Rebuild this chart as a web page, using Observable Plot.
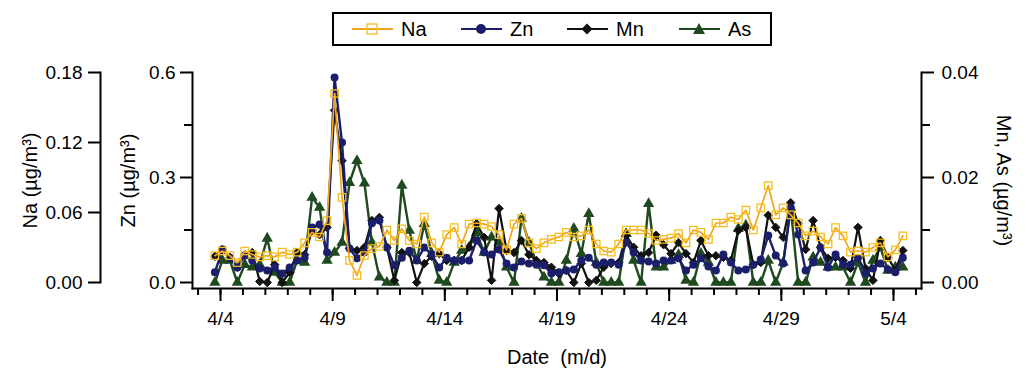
<!DOCTYPE html>
<html><head><meta charset="utf-8">
<script src="https://cdn.jsdelivr.net/npm/d3@7"></script>
<script src="https://cdn.jsdelivr.net/npm/@observablehq/plot@0.6"></script>
<style>
body{margin:0;background:#fff;font-family:"Liberation Sans",Arial,sans-serif;}
#wrap{position:relative;width:1026px;height:370px;}
#legend{position:absolute;left:332px;top:12px;width:436px;height:30px;border:2px solid #000;background:#fff;}
.item{position:absolute;top:0;height:30px;display:flex;align-items:center;font-size:20px;color:#000;}
.item svg{margin-right:8px;}
</style></head><body>
<div id="wrap"><div id="chart"></div><div id="legend"></div></div>
<script>
// ---- data (8-hour samples starting 4/3 18:00) ----
const startTime = "2008-04-03T18:00:00Z";
const stepHours = 8;
const na = [0.023,0.027,0.023,0.017,0.027,0.024,0.022,0.023,0.022,0.026,0.024,0.026,0.034,0.043,0.039,0.053,0.162,0.073,0.019,0.006,
0.023,0.029,0.031,0.045,0.036,0.046,0.036,0.033,0.056,0.034,0.026,0.041,0.047,0.033,0.050,0.051,0.050,0.048,0.041,0.028,
0.050,0.055,0.034,0.029,0.034,0.037,0.039,0.043,0.039,0.040,0.045,0.033,0.027,0.026,0.033,0.045,0.045,0.045,0.042,0.036,
0.037,0.038,0.042,0.034,0.045,0.043,0.037,0.051,0.051,0.056,0.054,0.062,0.045,0.064,0.083,0.058,0.064,0.058,0.051,0.040,
0.044,0.039,0.033,0.047,0.040,0.026,0.027,0.026,0.030,0.034,0.022,0.028,0.040];
const zn = [0.029,0.094,0.071,0.043,0.077,0.063,0.040,0.034,0.043,0.026,0.043,0.063,0.071,0.157,0.166,0.086,0.586,0.400,0.097,0.069,
0.086,0.169,0.177,0.100,0.049,0.071,0.091,0.063,0.100,0.080,0.043,0.071,0.063,0.063,0.063,0.120,0.086,0.080,0.094,0.054,
0.043,0.060,0.054,0.051,0.049,0.026,0.029,0.034,0.037,0.063,0.071,0.051,0.057,0.057,0.051,0.114,0.086,0.063,0.060,0.054,
0.063,0.063,0.069,0.034,0.051,0.069,0.046,0.034,0.080,0.057,0.034,0.037,0.051,0.066,0.134,0.077,0.054,0.214,0.137,0.034,
0.057,0.100,0.043,0.080,0.051,0.051,0.071,0.026,0.040,0.054,0.037,0.029,0.071];
const mn = [0.0050,0.0063,0.0048,0.0029,0.0053,0.0057,0.0002,0.0000,0.0034,0.0000,0.0019,0.0057,0.0053,0.0099,0.0091,0.0105,0.0328,0.0232,0.0065,0.0061,
0.0067,0.0118,0.0124,0.0067,0.0004,0.0057,0.0057,0.0000,0.0036,0.0050,0.0055,0.0042,0.0042,0.0042,0.0067,0.0112,0.0086,0.0004,0.0141,0.0061,
0.0057,0.0080,0.0053,0.0042,0.0038,0.0029,0.0017,0.0023,0.0000,0.0036,0.0000,0.0004,0.0029,0.0036,0.0038,0.0090,0.0067,0.0051,0.0057,0.0090,
0.0072,0.0055,0.0076,0.0055,0.0038,0.0080,0.0051,0.0051,0.0048,0.0042,0.0099,0.0105,0.0034,0.0038,0.0128,0.0105,0.0086,0.0152,0.0112,0.0063,
0.0118,0.0067,0.0046,0.0048,0.0042,0.0027,0.0105,0.0027,0.0004,0.0080,0.0048,0.0023,0.0061];
const as = [0.0000,0.0042,0.0042,0.0000,0.0034,0.0029,0.0034,0.0084,0.0019,0.0000,0.0000,0.0042,0.0038,0.0162,0.0143,0.0042,0.0057,0.0076,0.0190,0.0232,
0.0189,0.0076,0.0010,0.0000,0.0000,0.0185,0.0099,0.0042,0.0112,0.0055,0.0004,0.0000,0.0038,0.0061,0.0067,0.0095,0.0057,0.0086,0.0076,0.0029,
0.0000,0.0122,0.0076,0.0038,0.0010,0.0000,0.0000,0.0042,0.0103,0.0055,0.0131,0.0038,0.0000,0.0000,0.0000,0.0093,0.0042,0.0000,0.0150,0.0029,
0.0029,0.0042,0.0053,0.0004,0.0000,0.0055,0.0038,0.0000,0.0000,0.0000,0.0103,0.0109,0.0000,0.0000,0.0042,0.0000,0.0038,0.0143,0.0000,0.0000,
0.0048,0.0038,0.0029,0.0029,0.0029,0.0000,0.0038,0.0000,0.0042,0.0067,0.0023,0.0029,0.0029];

// ---- axes ----
const xDomain = ["2008-04-04", "2008-05-04"];
const majorTicks = ["2008-04-04","2008-04-09","2008-04-14","2008-04-19","2008-04-24","2008-04-29","2008-05-04"];
const minorRange = ["2008-04-03", "2008-05-06"];
const naTicks = [0, 0.06, 0.12, 0.18];
const znTicks = [0, 0.3, 0.6];
const znMinor = [0.15, 0.45];
const mnTicks = [0, 0.02, 0.04];
const mnMinor = [0.01, 0.03];
const naMax = 0.18, znMax = 0.6, mnMax = 0.04;

const colors = {Na: "#F2A51C", NaMarker: "#F6BE1A", Zn: "#1B1F6B", Mn: "#111111", As: "#1F4A1F"};
const font = '"Liberation Sans", Arial, sans-serif';

const t0 = new Date(startTime);
const dates = na.map((_, i) => new Date(+t0 + i * stepHours * 3600e3));
const naK = znMax / naMax, mnK = znMax / mnMax;
const mk = (arr, k) => arr.map((v, i) => ({date: dates[i], v: v * k}));
const dNa = mk(na, naK), dZn = mk(zn, 1), dMn = mk(mn, mnK), dAs = mk(as, mnK);

const pd = s => new Date(s + "T00:00:00Z");
const fmtMD = d => `${d.getUTCMonth() + 1}/${d.getUTCDate()}`;
const minorDays = d3.utcDay.range(pd(minorRange[0]), pd(minorRange[1]));

const chart = Plot.plot({
  width: 1026, height: 370,
  marginLeft: 192, marginRight: 105, marginTop: 72, marginBottom: 82,
  x: {type: "utc", domain: xDomain.map(pd), insetLeft: 28, insetRight: 28, label: null, axis: null},
  y: {domain: [0, znMax], insetBottom: 6, label: null, axis: null},
  style: {fontFamily: font, fontSize: "19px", color: "#000", background: "#fff"},
  marks: [
    Plot.frame({anchor: "left", strokeWidth: 2}),
    Plot.frame({anchor: "right", strokeWidth: 2}),
    Plot.frame({anchor: "bottom", strokeWidth: 2}),
    Plot.frame({anchor: "left", strokeWidth: 2, dx: -92, insetBottom: 6}),
    // x axis
    Plot.axisX(minorDays, {anchor: "bottom", tickSize: 7, strokeWidth: 2, tickFormat: () => "", label: null}),
    Plot.axisX(majorTicks.map(pd), {anchor: "bottom", tickSize: 13, strokeWidth: 2, tickPadding: 10, tickFormat: fmtMD, fontSize: 19, label: null}),
    // Zn axis
    Plot.axisY(znTicks, {anchor: "left", tickSize: 12, strokeWidth: 2, tickPadding: 5, tickFormat: d => d.toFixed(1), fontSize: 19, label: null}),
    Plot.axisY(znMinor, {anchor: "left", tickSize: 8, strokeWidth: 2, tickFormat: () => "", label: null}),
    // Na axis
    Plot.axisY(naTicks.map(v => v * naK), {anchor: "left", tickSize: 12, strokeWidth: 2, tickPadding: 6, dx: -92, tickFormat: d => (d / naK).toFixed(2), fontSize: 19, label: null}),
    // Mn, As axis
    Plot.axisY(mnTicks.map(v => v * mnK), {anchor: "right", tickSize: 12, strokeWidth: 2, tickPadding: 8, tickFormat: d => (d / mnK).toFixed(2), fontSize: 19, label: null}),
    Plot.axisY(mnMinor.map(v => v * mnK), {anchor: "right", tickSize: 8, strokeWidth: 2, tickFormat: () => "", label: null}),
    // axis titles
    Plot.text(["Na (µg/m³)"], {text: d => d, frameAnchor: "left", textAnchor: "middle", lineAnchor: "middle", rotate: -90, dx: -162, fontSize: 20}),
    Plot.text(["Zn (µg/m³)"], {text: d => d, frameAnchor: "left", textAnchor: "middle", lineAnchor: "middle", rotate: -90, dx: -64, fontSize: 20}),
    Plot.text(["Mn, As (µg/m³)"], {text: d => d, frameAnchor: "right", textAnchor: "middle", lineAnchor: "middle", rotate: 90, dx: 82, fontSize: 20}),
    Plot.text(["Date  (m/d)"], {text: d => d, frameAnchor: "bottom", textAnchor: "middle", lineAnchor: "middle", dy: 69, fontSize: 20}),
    // series
    Plot.line(dAs, {x: "date", y: "v", stroke: colors.As, strokeWidth: 2.4}),
    Plot.dot(dAs, {x: "date", y: "v", symbol: "triangle", r: 4.2, fill: colors.As}),
    Plot.line(dMn, {x: "date", y: "v", stroke: colors.Mn, strokeWidth: 2.2}),
    Plot.dot(dMn, {x: "date", y: "v", symbol: "diamond2", r: 3.8, fill: colors.Mn, stroke: colors.Mn, strokeWidth: 1}),
    Plot.line(dZn, {x: "date", y: "v", stroke: colors.Zn, strokeWidth: 2.4}),
    Plot.dot(dZn, {x: "date", y: "v", symbol: "circle", r: 4, fill: colors.Zn}),
    Plot.line(dNa, {x: "date", y: "v", stroke: colors.Na, strokeWidth: 1.7}),
    Plot.dot(dNa, {x: "date", y: "v", symbol: "square", r: 4.2, fill: "none", stroke: colors.NaMarker, strokeWidth: 1.3})
  ]
});
document.getElementById("chart").appendChild(chart);

// ---- legend ----
const legendItems = [
  {name: "Na", left: 18, line: colors.Na, marker: `<rect x="15" y="5" width="10" height="10" fill="none" stroke="${colors.NaMarker}" stroke-width="1.3"/>`},
  {name: "Zn", left: 127, line: colors.Zn, marker: `<circle cx="20" cy="10" r="5" fill="${colors.Zn}"/>`},
  {name: "Mn", left: 233, line: colors.Mn, marker: `<path d="M20 4.5 L25.5 10 L20 15.5 L14.5 10 Z" fill="${colors.Mn}"/>`},
  {name: "As", left: 345, line: colors.As, marker: `<path d="M20 4 L26 15 L14 15 Z" fill="${colors.As}"/>`}
];
const leg = document.getElementById("legend");
legendItems.forEach(it => {
  const div = document.createElement("div");
  div.className = "item";
  div.style.left = it.left + "px";
  div.innerHTML = `<svg width="41" height="20" viewBox="0 0 41 20"><line x1="0" y1="10" x2="41" y2="10" stroke="${it.line}" stroke-width="2"/>${it.marker}</svg><span>${it.name}</span>`;
  leg.appendChild(div);
});
</script>
</body></html>
